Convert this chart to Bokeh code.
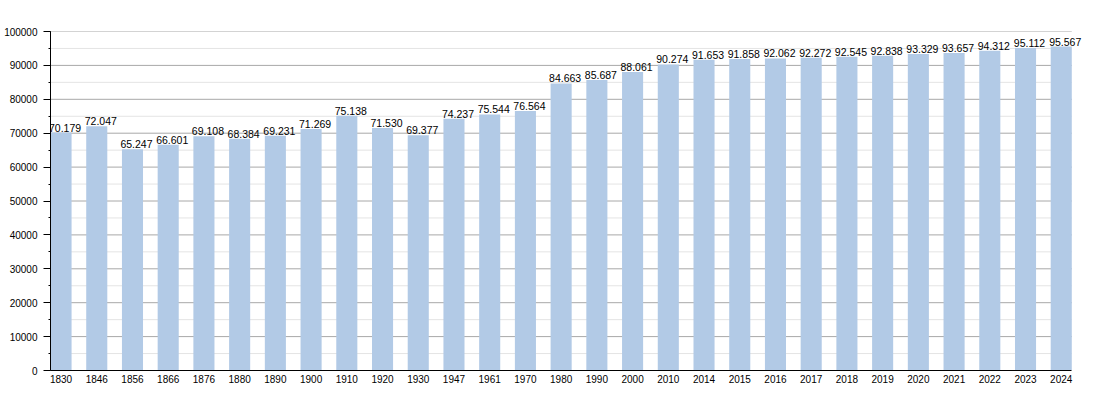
from bokeh.plotting import figure
from bokeh.models import ColumnDataSource, FixedTicker, SingleIntervalTicker, Range1d, BasicTickFormatter
from bokeh.core.properties import value
from bokeh.embed import file_html
from bokeh.resources import INLINE

years = ["1830", "1846", "1856", "1866", "1876", "1880", "1890", "1900", "1910", "1920",
         "1930", "1947", "1961", "1970", "1980", "1990", "2000", "2010", "2014", "2015",
         "2016", "2017", "2018", "2019", "2020", "2021", "2022", "2023", "2024"]
population = [70179, 72047, 65247, 66601, 69108, 68384, 69231, 71269, 75138, 71530,
              69377, 74237, 75544, 76564, 84663, 85687, 88061, 90274, 91653, 91858,
              92062, 92272, 92545, 92838, 93329, 93657, 94312, 95112, 95567]
major_y = list(range(10000, 100001, 10000))
minor_y = list(range(5000, 100000, 10000))

BAR_W = 0.59
idx = list(range(len(years)))
centers = [i + BAR_W / 2 for i in idx]
labels = [f"{v:,}".replace(",", ".") for v in population]
bar_end = len(years) - 1 + BAR_W
view_end = bar_end + 0.44

src = ColumnDataSource(dict(x=centers, top=population, label=labels))

FONT = "Liberation Sans"

p = figure(width=1092, height=385, output_backend="svg", toolbar_location=None,
           x_range=Range1d(0, view_end), y_range=Range1d(0, 100000),
           min_border_left=50, min_border_top=31, min_border_right=5, min_border_bottom=10)
p.outline_line_color = None
p.background_fill_color = "white"

# grid lines limited to the bar area
p.segment(x0=[0] * len(minor_y), x1=[bar_end] * len(minor_y), y0=minor_y, y1=minor_y,
          line_color="#e4e4e4", line_width=1)
p.segment(x0=[0] * len(major_y), x1=[bar_end] * len(major_y), y0=major_y, y1=major_y,
          line_color="#a8a8a8", line_width=1)

p.vbar(x="x", top="top", width=BAR_W, bottom=0, source=src,
       fill_color="#b2cae6", line_color=None)

p.text(x="x", y="top", text="label", source=src, text_align="center",
       text_baseline="alphabetic", x_offset=4, y_offset=-5,
       text_font=value(FONT), text_font_size="10.5px", text_color="#000000")

# y axis
p.yaxis.ticker = SingleIntervalTicker(interval=10000, num_minor_ticks=2)
p.yaxis.formatter = BasicTickFormatter(use_scientific=False)
p.yaxis.major_label_text_font = FONT
p.yaxis.major_label_text_font_size = "10px"
p.yaxis.major_label_text_color = "#000000"
p.yaxis.major_tick_out = 7
p.yaxis.major_tick_in = 0
p.yaxis.minor_tick_out = 2
p.yaxis.minor_tick_in = 0
p.yaxis.major_label_standoff = 6
p.yaxis.axis_line_color = "#000000"
p.yaxis.major_tick_line_color = "#000000"
p.yaxis.minor_tick_line_color = "#000000"

# x axis
p.xaxis.ticker = FixedTicker(ticks=centers)
p.xaxis.major_label_overrides = {c: y for c, y in zip(centers, years)}
p.xaxis.bounds = (0, bar_end)
p.xaxis.major_label_text_font = FONT
p.xaxis.major_label_text_font_size = "10px"
p.xaxis.major_label_text_color = "#000000"
p.xaxis.major_tick_out = 0
p.xaxis.major_tick_in = 0
p.xaxis.minor_tick_out = 0
p.xaxis.minor_tick_in = 0
p.xaxis.major_label_standoff = 4
p.xaxis.axis_line_color = "#000000"

p.xgrid.grid_line_color = None
p.ygrid.grid_line_color = None

open("out.html", "w").write(file_html(p, INLINE))
